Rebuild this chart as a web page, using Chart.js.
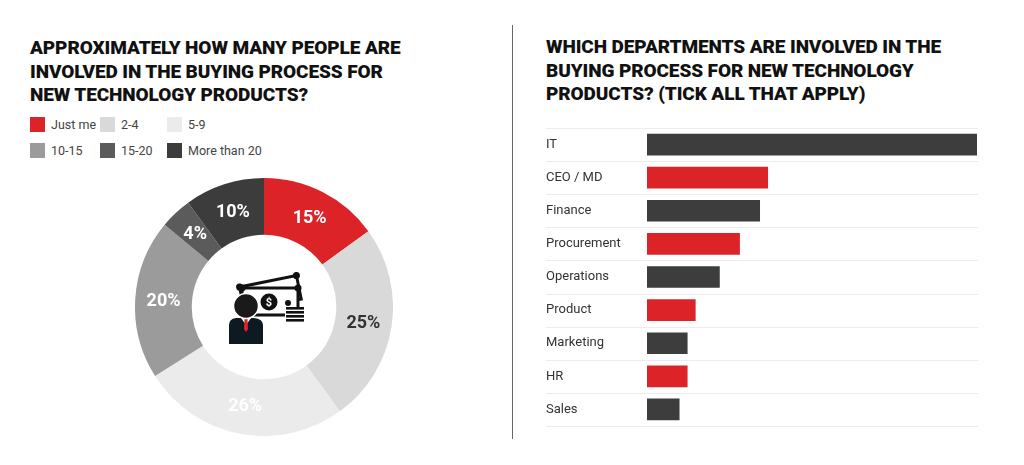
<!DOCTYPE html>
<html>
<head>
<meta charset="utf-8">
<script src="https://cdn.jsdelivr.net/npm/chart.js@4.4.1/dist/chart.umd.min.js"></script>
<style>
  html, body { margin: 0; padding: 0; background: #fff; }
  body { width: 1024px; height: 465px; position: relative; overflow: hidden; font-family: Roboto, "Noto Sans", sans-serif; }
  .title { position: absolute; font-weight: 900; font-size: 19px; line-height: 23.5px; color: #111; letter-spacing: -0.1px; }
  #leftTitle { left: 30px; top: 36px; }
  #rightTitle { left: 546px; top: 35px; }
  #divider { position: absolute; left: 512px; top: 25px; width: 1px; height: 414px; background: #666; }
  #legend { position: absolute; left: 30px; top: 117px; width: 260px; }
  .lg { position: absolute; height: 15px; font-size: 12.5px; color: #444; line-height: 15px; white-space: nowrap; }
  .lg span { display: inline-block; width: 15px; height: 15px; vertical-align: top; margin-right: 6px; }
  #donutBox { position: absolute; left: 135px; top: 178px; width: 258px; height: 258px; }
  #barBox { position: absolute; left: 546px; top: 128px; width: 432px; height: 299px; }
</style>
</head>
<body>
<div class="title" id="leftTitle">APPROXIMATELY HOW MANY PEOPLE ARE<br>INVOLVED IN THE BUYING PROCESS FOR<br>NEW TECHNOLOGY PRODUCTS?</div>
<div class="title" id="rightTitle">WHICH DEPARTMENTS ARE INVOLVED IN THE<br>BUYING PROCESS FOR NEW TECHNOLOGY<br>PRODUCTS? (TICK ALL THAT APPLY)</div>
<div id="divider"></div>
<div id="legend"></div>
<div id="donutBox"><canvas id="donut"></canvas></div>
<div id="barBox"><canvas id="bars"></canvas></div>

<script>
// people involved in buying (donut)
const groupLabels = ['Just me', '2-4', '5-9', '10-15', '15-20', 'More than 20'];
const groupShares = [15, 25, 26, 20, 4, 10];
const groupColors = ['#dc2428', '#d9d9d9', '#ebebeb', '#9b9b9b', '#5b5b5b', '#3c3c3c'];
const shareTextColors = ['#fff', '#333', '#fff', '#fff', '#fff', '#fff'];

// departments involved (bars), no axis in the picture
const departments = ['IT', 'CEO / MD', 'Finance', 'Procurement', 'Operations', 'Product', 'Marketing', 'HR', 'Sales'];
const deptValues = [82, 30, 28, 23, 18, 12, 10, 10, 8];
const deptColors = ['#3d3d3d', '#dc2428', '#3d3d3d', '#dc2428', '#3d3d3d', '#dc2428', '#3d3d3d', '#dc2428', '#3d3d3d'];

// legend, 3 per row like the original
const legendEl = document.getElementById('legend');
const colX = [0, 70, 137];
groupLabels.forEach((lab, i) => {
    const d = document.createElement('div');
    d.className = 'lg';
    d.style.left = colX[i % 3] + 'px';
    d.style.top = (Math.floor(i / 3) * 26) + 'px';
    d.innerHTML = '<span style="background:' + groupColors[i] + '"></span>' + lab;
    legendEl.appendChild(d);
});

const shareLabels = {
    id: 'shareLabels',
    afterDatasetsDraw(chart) {
        const ctx = chart.ctx;
        const meta = chart.getDatasetMeta(0);
        ctx.save();
        ctx.font = 'bold 18px Roboto, sans-serif';
        ctx.textAlign = 'center';
        ctx.textBaseline = 'middle';
        meta.data.forEach((arc, i) => {
            const p = arc.getCenterPoint();
            ctx.fillStyle = shareTextColors[i];
            ctx.fillText(groupShares[i] + '%', p.x, p.y + 1);
        });
        ctx.restore();
    }
};

// little money/person icon in the hole
const centerIcon = {
    id: 'centerIcon',
    afterDraw(chart) {
        const arc = chart.getDatasetMeta(0).data[0];
        if (!arc) return;
        const cx = arc.x, cy = arc.y;
        const ctx = chart.ctx;
        ctx.save();
        ctx.translate(cx, cy);
        ctx.lineWidth = 3;
        ctx.strokeStyle = '#111';
        ctx.fillStyle = '#fff';
        // back bill, tilted
        ctx.save();
        ctx.translate(6, -16);
        ctx.rotate(-0.2);
        ctx.beginPath();
        ctx.rect(-29, -10, 58, 24);
        ctx.fill();
        ctx.stroke();
        ctx.fillStyle = '#111';
        [[-29, -10], [29, -10]].forEach(c => { ctx.beginPath(); ctx.arc(c[0], c[1], 3.5, 0, Math.PI * 2); ctx.fill(); });
        ctx.restore();
        // front bill
        ctx.fillStyle = '#fff';
        ctx.beginPath();
        ctx.rect(-22, -19, 56, 27);
        ctx.fill();
        ctx.stroke();
        ctx.fillStyle = '#111';
        [[-22, -19], [34, -19]].forEach(c => { ctx.beginPath(); ctx.arc(c[0], c[1], 3.5, 0, Math.PI * 2); ctx.fill(); });
        // coin
        ctx.beginPath();
        ctx.arc(5, -5, 8.5, 0, Math.PI * 2);
        ctx.fill();
        ctx.fillStyle = '#fff';
        ctx.font = 'bold 11px Roboto, sans-serif';
        ctx.textAlign = 'center';
        ctx.textBaseline = 'middle';
        ctx.fillText('$', 5, -4);
        ctx.fillStyle = '#111';
        ctx.beginPath();
        ctx.arc(24, -4, 3, 0, Math.PI * 2);
        ctx.fill();
        // coin stack
        for (let k = 0; k < 4; k++) {
            ctx.fillStyle = '#fff';
            ctx.fillRect(21, 0 + k * 4, 20, 4);
            ctx.fillStyle = '#111';
            ctx.fillRect(22, 0 + k * 4, 18, 2.6);
        }
        // person body
        ctx.fillStyle = '#0e1a22';
        ctx.beginPath();
        ctx.moveTo(-35, 37);
        ctx.lineTo(-35, 18);
        ctx.quadraticCurveTo(-35, 12, -28, 11);
        ctx.lineTo(-10, 11);
        ctx.quadraticCurveTo(-1, 12, -1, 18);
        ctx.lineTo(-1, 37);
        ctx.closePath();
        ctx.fill();
        // collar + tie
        ctx.fillStyle = '#fff';
        ctx.beginPath();
        ctx.moveTo(-23, 11); ctx.lineTo(-13, 11); ctx.lineTo(-18, 18); ctx.closePath();
        ctx.fill();
        ctx.fillStyle = '#dc2428';
        ctx.beginPath();
        ctx.moveTo(-19.5, 12); ctx.lineTo(-16.5, 12); ctx.lineTo(-16, 22); ctx.lineTo(-18, 25); ctx.lineTo(-20, 22); ctx.closePath();
        ctx.fill();
        // head
        ctx.fillStyle = '#1a1a1a';
        ctx.strokeStyle = '#fff';
        ctx.lineWidth = 1.5;
        ctx.beginPath();
        ctx.arc(-18, -1, 12.5, 0, Math.PI * 2);
        ctx.fill();
        ctx.stroke();
        ctx.restore();
    }
};

new Chart(document.getElementById('donut'), {
    type: 'doughnut',
    data: {
        labels: groupLabels,
        datasets: [{
            data: groupShares,
            backgroundColor: groupColors,
            borderWidth: 0
        }]
    },
    options: {
        responsive: true,
        maintainAspectRatio: false,
        cutout: '56%',
        animation: false,
        layout: { padding: 0 },
        plugins: {
            legend: { display: false },
            tooltip: { enabled: false }
        }
    },
    plugins: [shareLabels, centerIcon]
});

// row separators across the whole width, labels included
const rowLines = {
    id: 'rowLines',
    beforeDatasetsDraw(chart) {
        const y = chart.scales.y;
        const ctx = chart.ctx;
        const step = (y.bottom - y.top) / departments.length;
        ctx.save();
        ctx.strokeStyle = '#ececec';
        ctx.lineWidth = 1;
        for (let i = 0; i <= departments.length; i++) {
            const py = Math.round(y.top + i * step) + 0.5;
            ctx.beginPath();
            ctx.moveTo(0, py);
            ctx.lineTo(chart.width, py);
            ctx.stroke();
        }
        ctx.restore();
    }
};

new Chart(document.getElementById('bars'), {
    type: 'bar',
    data: {
        labels: departments,
        datasets: [{
            data: deptValues,
            backgroundColor: deptColors,
            borderWidth: 0,
            barThickness: 21
        }]
    },
    options: {
        indexAxis: 'y',
        responsive: true,
        maintainAspectRatio: false,
        animation: false,
        layout: { padding: { top: 0, bottom: 1, right: 1 } },
        scales: {
            x: { display: false, min: 0, max: 82 },
            y: {
                grid: { display: false },
                border: { display: false },
                afterFit(scale) {
                    scale.width = 101;
                    scale.paddingTop = 0;
                    scale.paddingBottom = 0;
                },
                ticks: {
                    crossAlign: 'far',
                    padding: 0,
                    color: '#333',
                    font: { family: 'Roboto', size: 13 }
                }
            }
        },
        plugins: {
            legend: { display: false },
            tooltip: { enabled: false }
        }
    },
    plugins: [rowLines]
});
</script>
</body>
</html>
